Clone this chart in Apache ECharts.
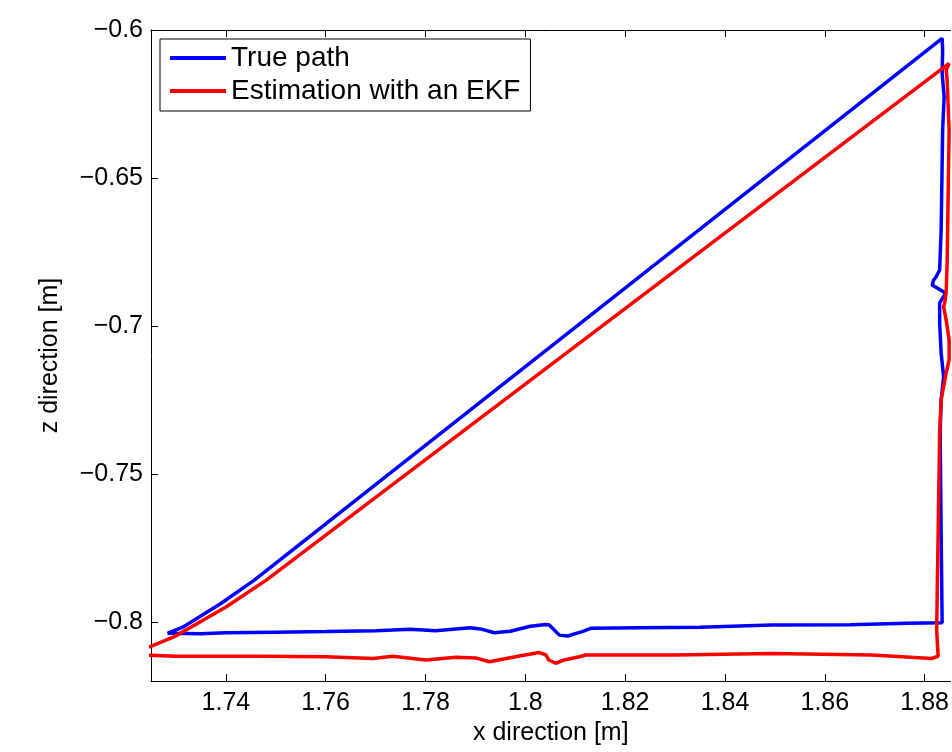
<!DOCTYPE html>
<html>
<head>
<meta charset="utf-8">
<script src="https://cdn.jsdelivr.net/npm/echarts@6.0.0/dist/echarts.min.js"></script>
<style>
  html, body { margin: 0; padding: 0; background: #fff; }
  #main { width: 952px; height: 752px; }
</style>
</head>
<body>
<div id="main"></div>
<script>
// tick labels
var xTicks = [1.74, 1.76, 1.78, 1.8, 1.82, 1.84, 1.86, 1.88];
var zTicks = [-0.8, -0.75, -0.7, -0.65, -0.6];

// true path (x, z)
var trueX = [1.7283, 1.7350, 1.7400, 1.7500, 1.7600, 1.7700, 1.7770, 1.7820, 1.7890, 1.7910,
  1.7938, 1.7970, 1.8010, 1.8041, 1.8048, 1.8068, 1.8085, 1.8100, 1.8114, 1.8131,
  1.8228, 1.8350, 1.8494, 1.8650, 1.8764, 1.8835, 1.8838,
  1.8833, 1.8831, 1.8833, 1.8838, 1.8833, 1.8830, 1.8830, 1.8842, 1.8815, 1.8818,
  1.8823, 1.8830, 1.8833, 1.8835, 1.8836, 1.8839, 1.8835, 1.8836, 1.8835,
  1.7457, 1.7390, 1.7337, 1.7316, 1.7283];
var trueZ = [-0.8039, -0.8040, -0.8037, -0.8035, -0.8033, -0.8030, -0.8025, -0.8030, -0.8020, -0.8024,
  -0.8037, -0.8032, -0.8015, -0.8009, -0.8011, -0.8045, -0.8048, -0.8040, -0.8033, -0.8022,
  -0.8020, -0.8018, -0.8011, -0.8010, -0.8005, -0.8003, -0.8008,
  -0.7700, -0.7362, -0.7250, -0.7172, -0.7092, -0.6990, -0.6923, -0.6889, -0.6862, -0.6845,
  -0.6834, -0.6811, -0.6676, -0.6450, -0.6338, -0.6225, -0.6146, -0.6068, -0.6028,
  -0.7859, -0.7938, -0.7994, -0.8016, -0.8039];

// EKF estimate (x, z)
var ekfX = [1.7230, 1.7300, 1.7461, 1.7601, 1.7695, 1.7734, 1.7801, 1.7861, 1.7900, 1.7928,
  1.7980, 1.8028, 1.8041, 1.8047, 1.8061, 1.8078, 1.8108, 1.8121, 1.8300, 1.8494,
  1.8694, 1.8814, 1.8827,
  1.8824, 1.8827, 1.8830, 1.8833, 1.8843, 1.8849, 1.8849, 1.8843, 1.8838, 1.8840,
  1.8843, 1.8845, 1.8847, 1.8849, 1.8845, 1.8843, 1.8849,
  1.7481, 1.7401, 1.7361, 1.7297, 1.7251, 1.7230];
var ekfZ = [-0.8112, -0.8116, -0.8116, -0.8118, -0.8124, -0.8116, -0.8129, -0.8120, -0.8122, -0.8135,
  -0.8118, -0.8104, -0.8112, -0.8129, -0.8140, -0.8129, -0.8118, -0.8112, -0.8112, -0.8107,
  -0.8112, -0.8124, -0.8116,
  -0.8028, -0.7701, -0.7363, -0.7250, -0.7160, -0.7115, -0.7048, -0.6980, -0.6935, -0.6923,
  -0.6889, -0.6787, -0.6563, -0.6338, -0.6169, -0.6135, -0.6113,
  -0.7859, -0.7949, -0.7988, -0.8050, -0.8082, -0.8095];

function pairs(xs, ys) {
  var out = [];
  for (var i = 0; i < xs.length; i++) out.push([xs[i], ys[i]]);
  return out;
}

var font = 'Liberation Sans, Arial, sans-serif';
// the right edge of the axes box is cut off by the picture
var xMin = 1.725, xMax = 1.8852;
var zMin = -0.82, zMax = -0.6;

var myChart = echarts.init(document.getElementById('main'));
var option = {
  animation: false,
  backgroundColor: '#fff',
  grid: { left: 151, top: 30, right: 0, bottom: 71, containLabel: false },
  legend: {
    left: 160,
    top: 39,
    orient: 'vertical',
    backgroundColor: '#fff',
    borderColor: '#000',
    borderWidth: 1,
    borderRadius: 0,
    padding: [5, 10, 6, 10],
    itemGap: 5,
    itemWidth: 56,
    itemHeight: 4,
    icon: 'rect',
    textStyle: { fontFamily: font, fontSize: 28, color: '#000' },
    data: ['True path', 'Estimation with an EKF']
  },
  xAxis: [
    {
      type: 'value', min: xMin, max: xMax, position: 'bottom',
      name: 'x direction [m]', nameLocation: 'middle', nameGap: 38,
      nameTextStyle: { fontFamily: font, fontSize: 25, color: '#000' },
      axisLine: { show: true, onZero: false, lineStyle: { color: '#000', width: 1 } },
      axisTick: { show: true, inside: true, length: 7, customValues: xTicks, lineStyle: { color: '#000' } },
      axisLabel: {
        customValues: xTicks, margin: 10,
        fontFamily: font, fontSize: 25, color: '#000',
        formatter: function (v) { return String(v); }
      },
      splitLine: { show: false }
    },
    {
      type: 'value', min: xMin, max: xMax, position: 'top',
      axisLine: { show: true, onZero: false, lineStyle: { color: '#000', width: 1 } },
      axisTick: { show: true, inside: true, length: 7, customValues: xTicks, lineStyle: { color: '#000' } },
      axisLabel: { show: false },
      splitLine: { show: false }
    }
  ],
  yAxis: [
    {
      type: 'value', min: zMin, max: zMax, position: 'left',
      name: 'z direction [m]', nameLocation: 'middle', nameGap: 88, nameRotate: 90,
      nameTextStyle: { fontFamily: font, fontSize: 25, color: '#000' },
      axisLine: { show: true, onZero: false, lineStyle: { color: '#000', width: 1 } },
      axisTick: { show: true, inside: true, length: 7, customValues: zTicks, lineStyle: { color: '#000' } },
      axisLabel: {
        customValues: zTicks, margin: 8,
        fontFamily: font, fontSize: 25, color: '#000',
        formatter: function (v) { return String(v).replace('-', '\u2212'); }
      },
      splitLine: { show: false }
    }
  ],
  series: [
    {
      name: 'True path',
      type: 'line',
      showSymbol: false,
      color: '#0000ff',
      lineStyle: { color: '#0000ff', width: 3.5 },
      data: pairs(trueX, trueZ)
    },
    {
      name: 'Estimation with an EKF',
      type: 'line',
      showSymbol: false,
      color: '#ff0000',
      lineStyle: { color: '#ff0000', width: 3.5 },
      data: pairs(ekfX, ekfZ)
    }
  ]
};

myChart.setOption(option);
</script>
</body>
</html>
